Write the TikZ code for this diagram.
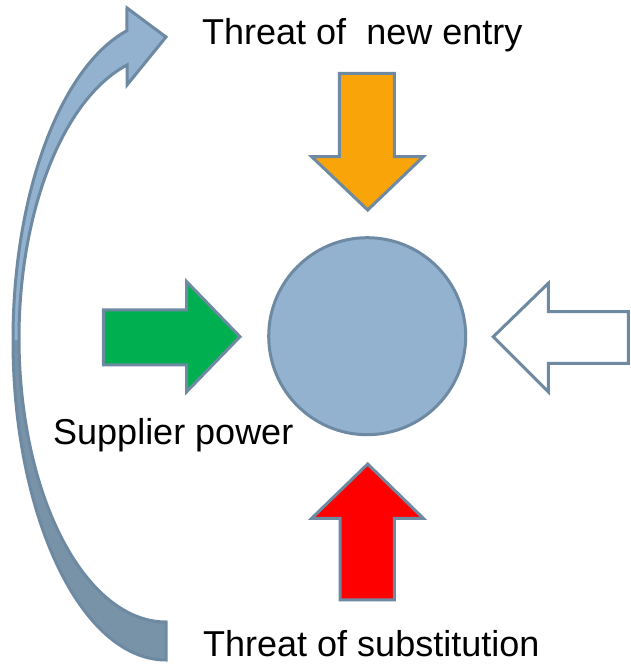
\documentclass[tikz,border=0pt]{standalone}
\usepackage{fontspec}
\setmainfont{Liberation Sans}
\definecolor{edgeblue}{RGB}{110,138,162}
\definecolor{lightblue}{RGB}{147,178,208}
\definecolor{darkblue}{RGB}{120,146,168}
\definecolor{forceorange}{RGB}{249,165,10}
\definecolor{forcegreen}{RGB}{0,176,80}
\definecolor{forcered}{RGB}{255,0,0}
\tikzset{
  force/.style={draw=edgeblue, line width=3pt, line join=miter},
  label/.style={anchor=base west, inner sep=0pt, font=\fontsize{36}{43}\selectfont},
}
\begin{document}
\begin{tikzpicture}[x=1pt, y=1pt]
  \useasboundingbox (0,0) rectangle (630,664);

  % curved arrow on the left, from bottom to top
  \def\curvedarrow{(166,4) arc[x radius=153, y radius=320, start angle=270, end angle=104.8]
      -- (127,656) -- (166,627) -- (127,579) -- (127,599)
      arc[x radius=147, y radius=283.6, start angle=105.4, end angle=270] -- cycle}
  \fill[darkblue] \curvedarrow;
  \begin{scope}
    \clip (0,324) rectangle (630,664);
    \fill[lightblue] \curvedarrow;
  \end{scope}
  \draw[force] \curvedarrow;

  % central circle
  \node[circle, force, fill=lightblue, minimum size=197pt, inner sep=0pt] (firm) at (367.2,327.8) {};

  % four block arrows pointing at the circle
  \draw[force, fill=forceorange] (339.3,590.7) -- (394.3,590.7) -- (394.3,507.3) -- (423.3,507.3)
      -- (367.7,454) -- (311.7,507.3) -- (339.3,507.3) -- cycle;
  \draw[force, fill=forcered] (340,64) -- (394.3,64) -- (394.3,145.7) -- (423.3,145.7)
      -- (367.7,200) -- (311.7,145.7) -- (340,145.7) -- cycle;
  \draw[force, fill=forcegreen] (103.3,354) -- (186.7,354) -- (186.7,382.3) -- (240,327.3)
      -- (186.7,272.3) -- (186.7,299) -- (103.3,299) -- cycle;
  \draw[force, fill=white] (628.3,352.3) -- (548.3,352.3) -- (548.3,380.7) -- (493.3,327.3)
      -- (548.3,272.3) -- (548.3,300.7) -- (628.3,300.7) -- cycle;

  % labels
  \node[label] (entry) at (202,619) {Threat of~ new entry};
  \node[label] (supplier) at (53,219) {Supplier power};
  \node[label] (subst) at (203,8) {Threat of substitution};
\end{tikzpicture}
\end{document}
